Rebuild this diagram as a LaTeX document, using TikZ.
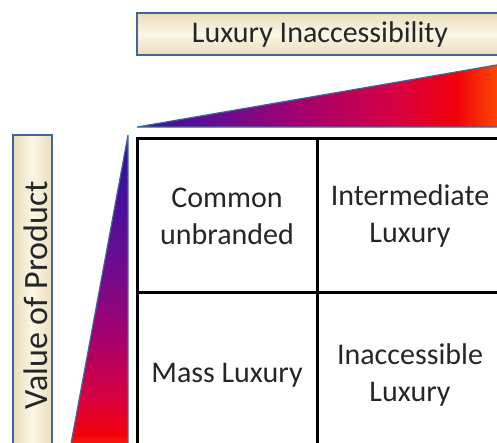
\documentclass[tikz,border=0pt]{standalone}
\usepackage{fontspec}
\setmainfont{Carlito}
\usepackage{xcolor}
\usetikzlibrary{shapes,positioning}

\definecolor{boxedge}{HTML}{41679A}
\definecolor{boxlight}{HTML}{FCF6E6}
\definecolor{boxdark}{HTML}{EADDBB}
\definecolor{lxindigo}{HTML}{38109E}
\definecolor{lxpurple}{HTML}{6A0C92}
\definecolor{lxmagenta}{HTML}{A4006E}
\definecolor{lxcrimson}{HTML}{D60042}
\definecolor{lxred}{HTML}{F2000A}
\definecolor{lxorange}{HTML}{FF5A00}

% gradients of the two wedges
\pgfdeclarehorizontalshading{luxright}{100bp}{color(0bp)=(lxindigo); color(25bp)=(lxindigo);
  color(36bp)=(lxpurple); color(47bp)=(lxmagenta); color(60bp)=(lxcrimson);
  color(68bp)=(lxred); color(75bp)=(lxorange); color(100bp)=(lxorange)}
\pgfdeclareverticalshading{luxdown}{100bp}{color(0bp)=(lxorange); color(25bp)=(lxorange);
  color(29bp)=(lxred); color(35bp)=(lxcrimson); color(44bp)=(lxmagenta);
  color(56bp)=(lxpurple); color(70bp)=(lxindigo); color(100bp)=(lxindigo)}

\tikzset{
  axisbox/.style={draw=boxedge, line width=2pt},
  wedge/.style={draw=boxedge, line width=1.2pt},
  grid/.style={draw=black, line width=3pt},
  celltext/.style={align=center, font=\fontsize{30}{37}\selectfont, text=black!85},
}

\begin{document}
\begin{tikzpicture}[x=1pt,y=-1pt]
\useasboundingbox (0,0) rectangle (497,442);
% label boxes
\draw[axisbox, top color=boxdark, bottom color=boxdark, middle color=boxlight] (137,13)--(512,13)--(512,55)--(137,55)--cycle;
\draw[axisbox, left color=boxdark, right color=boxdark, middle color=boxlight] (13,135)--(52,135)--(52,460)--(13,460)--cycle;
\node (L1) at (320,34) [celltext] {Luxury Inaccessibility};
\node (L2) at (36,295) [celltext, rotate=90, font=\fontsize{34}{40}\selectfont] {Value of Product};
% wedges
\draw[wedge, shading=luxright] (137,127)--(508,63)--(508,127)--cycle;
\draw[wedge, shading=luxdown] (128,135)--(128,460)--(68,460)--cycle;
% matrix
\draw[grid] (137,138) rectangle (503,458);
\draw[grid] (317,138)--(317,458);
\draw[grid] (137,292)--(503,292);
\node (Q1) at (227,216) [celltext] {Common\\unbranded};
\node (Q2) at (410,216) [celltext] {Intermediate\\Luxury};
\node (Q3) at (227,375) [celltext] {Mass Luxury};
\node (Q4) at (410,375) [celltext] {Inaccessible\\Luxury};
\end{tikzpicture}
\end{document}
